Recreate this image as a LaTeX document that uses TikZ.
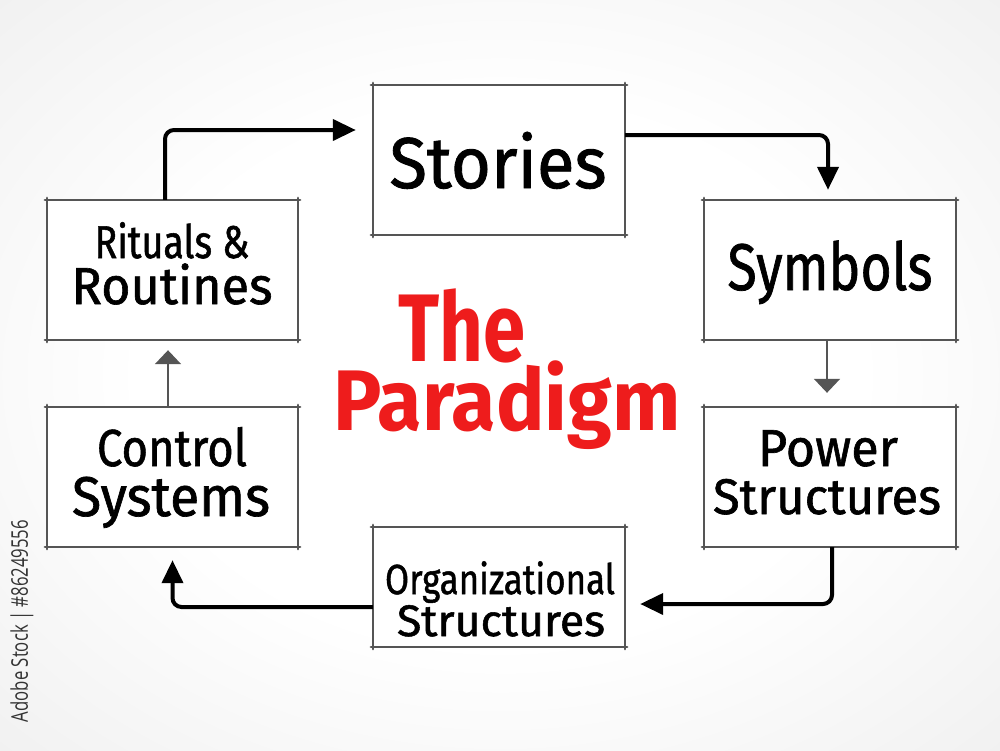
\documentclass[tikz,border=0pt]{standalone}
\usepackage{fontspec}
\setmainfont{Fira Sans}
\newfontfamily\labelfont{Fira Sans}[FakeBold=1.2]
\newfontfamily\wmfont{Open Sans}
\usepackage{graphicx}
\usetikzlibrary{arrows.meta,calc}
\definecolor{boxgray}{HTML}{555555}
\definecolor{titlered}{HTML}{EE1C1C}
\definecolor{wmgray}{HTML}{333333}
\pgfdeclareradialshading{bgshade}{\pgfpoint{0bp}{0bp}}{color(0bp)=(white); color(18bp)=(white); color(50bp)=(black!10); color(72bp)=(black!18)}
\newsavebox\fitbox
\newcommand\fitx[3]{{\fontsize{#2}{#2}\selectfont\sbox\fitbox{#3}\scalebox{\fpeval{(#1)/(\the\wd\fitbox)}}[1]{\usebox\fitbox}}}
\newcommand\sketchbox[1]{\draw[boxline] ([xshift=-2pt]#1.north west) -- ([xshift=2pt]#1.north east) ([yshift=2pt]#1.north east) -- ([yshift=-2pt]#1.south east) ([xshift=2pt]#1.south east) -- ([xshift=-2pt]#1.south west) ([yshift=-2pt]#1.south west) -- ([yshift=2pt]#1.north west);}
\tikzset{
  box/.style={draw=none, fill=white, inner sep=0pt, minimum width=252pt, minimum height=140pt},
  boxline/.style={draw=boxgray, line width=2.2pt, line cap=round},
  arr/.style={draw=black, line width=4pt, rounded corners=9pt, -{Triangle[length=23pt,width=21pt]}},
  garr/.style={draw=boxgray, line width=2pt, -{Triangle[length=14pt,width=26pt]}},
  lbl/.style={anchor=base, inner sep=0pt, text=black, font=\labelfont},
  title/.style={anchor=base, inner sep=0pt, text=titlered, font=\bfseries}
}
\begin{document}
\begin{tikzpicture}[x=1pt,y=-1pt]
\useasboundingbox (0,0) rectangle (1000,750);
\shade[shading=bgshade] (0,0) rectangle (1000,750);
% boxes
\node[box, minimum height=150pt] (stories) at (499,160) {};
\node[box, minimum width=251pt] (rituals) at (172.5,270) {};
\node[box] (symbols) at (830,270) {};
\node[box, minimum width=251pt] (control) at (172.5,477) {};
\node[box] (power) at (830,477) {};
\node[box, minimum height=120pt] (org) at (499,587) {};
\sketchbox{stories}
\sketchbox{rituals}
\sketchbox{symbols}
\sketchbox{control}
\sketchbox{power}
\sketchbox{org}
% connectors
\draw[arr] ([xshift=-7.5pt]rituals.north) |- ([xshift=-17pt,yshift=30pt]stories.west);
\draw[arr] ([yshift=25pt]stories.east) -| ([xshift=-2pt,yshift=10pt]symbols.north);
\draw[garr] ([xshift=-3pt]symbols.south) -- ([xshift=-3pt,yshift=14pt]power.north);
\draw[arr] ([xshift=2pt]power.south) |- ([xshift=15pt,yshift=-17pt]org.east);
\draw[arr] ([yshift=-20pt]org.west) -| ([yshift=-13pt]control.south);
\draw[garr] ([xshift=-4.5pt]control.north) -- ([xshift=-4.5pt,yshift=-10pt]rituals.south);
% labels
\node[lbl] (tStories) at (498,188) {\fitx{217pt}{72pt}{Stories}};
\node[lbl] (tSymbols) at (830,290) {\fitx{205pt}{66pt}{Symbols}};
\node[lbl] (tRit1) at (172,258) {\fitx{155pt}{46pt}{Rituals \&}};
\node[lbl] (tRit2) at (172,304) {\fitx{201pt}{52pt}{Routines}};
\node[lbl] (tCon1) at (172,466) {\fitx{150pt}{52pt}{Control}};
\node[lbl] (tCon2) at (171,516) {\fitx{198pt}{56pt}{Systems}};
\node[lbl] (tPow1) at (828,466) {\fitx{140pt}{52pt}{Power}};
\node[lbl] (tPow2) at (827,514) {\fitx{228pt}{50pt}{Structures}};
\node[lbl] (tOrg1) at (500,594) {\fitx{230pt}{42pt}{Organizational}};
\node[lbl] (tOrg2) at (501,636) {\fitx{208pt}{44pt}{Structures}};
\node[title] (tThe) at (462,361) {\fitx{127pt}{96pt}{The}};
\node[title] (tPar) at (507,430) {\fitx{347pt}{86pt}{Paradigm}};
\node[rotate=90, inner sep=0pt, text=wmgray, font=\wmfont] (wm) at (22,621) {\fitx{202pt}{23pt}{Adobe Stock | \#86249556}};
\end{tikzpicture}
\end{document}
